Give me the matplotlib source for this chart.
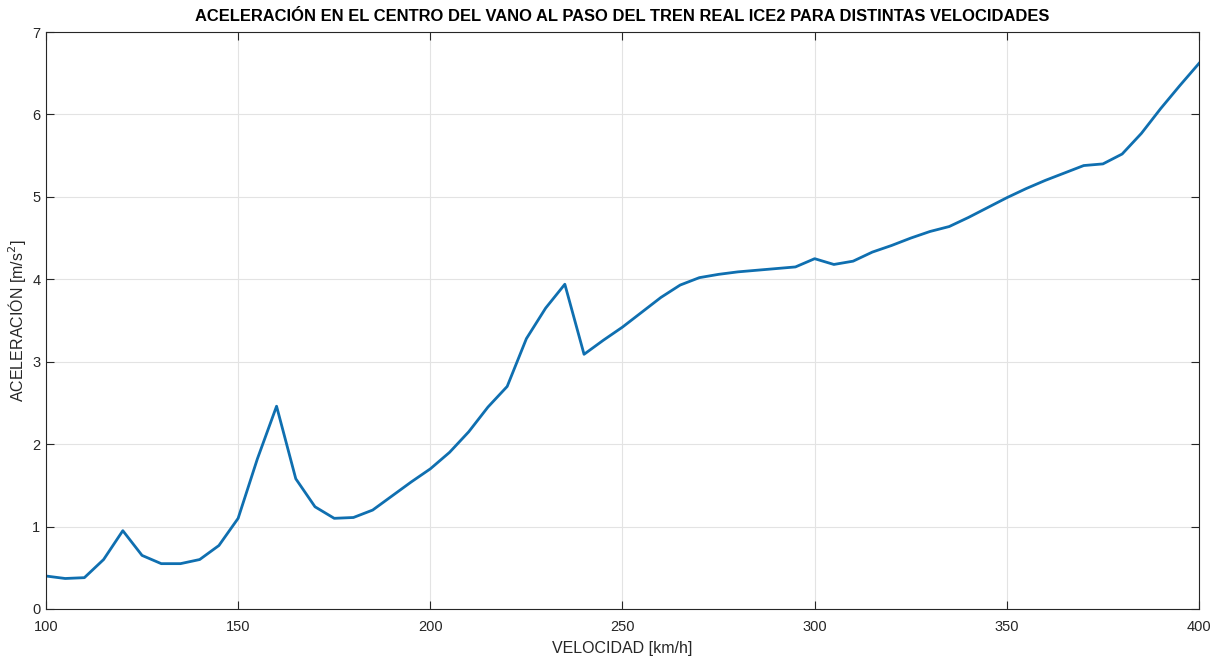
import matplotlib.pyplot as plt

plt.rcParams['font.family'] = ['Liberation Sans', 'DejaVu Sans']

# velocidad [km/h] y aceleración [m/s2]
velocidad = list(range(100, 405, 5))
aceleracion = [
    0.40, 0.37, 0.38, 0.60, 0.95, 0.65, 0.55, 0.55, 0.60, 0.77,
    1.10, 1.82, 2.46, 1.58, 1.24, 1.10, 1.11, 1.20, 1.37, 1.54,
    1.70, 1.90, 2.15, 2.45, 2.70, 3.28, 3.65, 3.94, 3.09, 3.26,
    3.42, 3.60, 3.78, 3.93, 4.02, 4.06, 4.09, 4.11, 4.13, 4.15,
    4.25, 4.18, 4.22, 4.33, 4.41, 4.50, 4.58, 4.64, 4.75, 4.87,
    4.99, 5.10, 5.20, 5.29, 5.38, 5.40, 5.52, 5.77, 6.07, 6.35,
    6.62,
]

fig = plt.figure(figsize=(12.22, 6.59), dpi=100)
ax = fig.add_axes([0.0376, 0.0759, 0.9436, 0.8755])

ax.plot(velocidad, aceleracion, color='#0f6fb0', linewidth=2.0)

ax.set_xlim(100, 400)
ax.set_ylim(0, 7)
ax.set_xticks(range(100, 401, 50))
ax.set_yticks(range(0, 8))
ax.grid(True, color='#e3e3e3', linewidth=0.8)
ax.set_axisbelow(True)
ax.tick_params(direction='in', top=True, right=True, length=6,
               labelsize=10.5, colors='#262626', width=0.8)
ax.tick_params(axis='x', pad=8)
ax.tick_params(axis='y', pad=4)
for s in ax.spines.values():
    s.set_color('#262626')
    s.set_linewidth(0.8)

ax.set_title('ACELERACIÓN EN EL CENTRO DEL VANO AL PASO DEL TREN REAL ICE2 PARA DISTINTAS VELOCIDADES',
             fontsize=11.9, fontweight='bold', pad=8)
ax.set_xlabel('VELOCIDAD [km/h]', fontsize=11.5, color='#262626', labelpad=5)
ax.set_ylabel('ACELERACIÓN [m/s$^2$]', fontsize=11.5, color='#262626', labelpad=3)

fig.savefig('out.png', dpi=100)
